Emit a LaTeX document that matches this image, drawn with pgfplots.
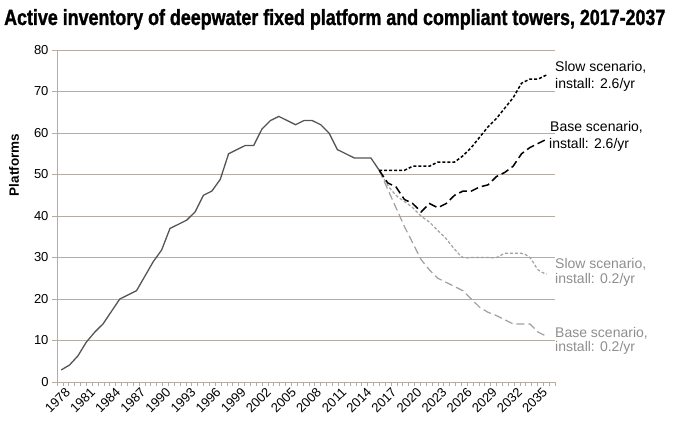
\documentclass[border=0pt]{standalone}
\usepackage{fontspec}
\setmainfont{Liberation Sans}
\newfontfamily\titlefont{Liberation Sans}[FakeStretch=0.812, FakeBold=1.2]
\usepackage{pgfplots}
\pgfplotsset{compat=1.18}

\definecolor{gridgray}{HTML}{B3ADA6}
\definecolor{histgray}{HTML}{555555}
\definecolor{lowgray}{HTML}{A0A0A0}
\definecolor{labgray}{HTML}{8E8E8E}

\begin{document}
\begin{tikzpicture}
\useasboundingbox (-57bp,-52bp) rectangle (618bp,382bp);
\begin{axis}[
    scale only axis,
    width=498bp, height=332bp,
    xmin=1976.5, xmax=2036,
    ymin=0, ymax=80,
    axis x line=bottom, axis y line=left,
    axis line style={gridgray, -, line width=0.8bp},
    ytick={0,10,...,80},
    xtick={1978,1981,...,2035},
    minor xtick={1976.5,1977.2,...,2036},
    major x tick style={draw=none},
    minor x tick style={gridgray, line width=0.6bp},
    minor tick length=4bp,
    ytick style={gridgray, line width=0.8bp},
    major tick length=5bp,
    tick align=outside,
    ymajorgrids,
    grid style={gridgray, line width=0.8bp},
    /pgf/number format/assume math mode=true,
    xticklabel={\pgfmathprintnumber[1000 sep={}]{\tick}},
    yticklabel style={font=\fontsize{13bp}{15bp}\selectfont},
    xticklabel style={font=\fontsize{13bp}{15bp}\selectfont, rotate=45, anchor=east, yshift=-1bp},
    clip=false,
]
% historical inventory
\addplot[histgray, line width=1.3bp] coordinates {
(1977,2.9) (1978,4.1) (1979,6.3) (1980,9.6) (1981,12) (1982,14) (1983,17)
(1984,20) (1985,21) (1986,22) (1987,25.5) (1988,29) (1989,31.8) (1990,37)
(1991,38) (1992,39) (1993,41) (1994,45) (1995,46) (1996,48.8) (1997,55)
(1998,56) (1999,57) (2000,57) (2001,61) (2002,63) (2003,64) (2004,63)
(2005,62) (2006,63) (2007,63) (2008,62) (2009,60) (2010,56) (2011,55)
(2012,54) (2013,54) (2014,54) (2015,51)
};
% slow scenario, install 0.2/yr
\addplot[lowgray, line width=1.2bp, dash pattern=on 3bp off 2bp, smooth] coordinates {
(2015,51) (2016,47.5) (2017,45) (2018,43.5) (2019,42) (2020,40) (2021,38.5)
(2022,36.5) (2023,34.5) (2024,32) (2025,30) (2026,30) (2027,30) (2028,30)
(2029,30) (2030,31) (2031,31) (2032,31) (2033,30) (2034,27) (2035,26)
};
% base scenario, install 0.2/yr
\addplot[lowgray, line width=1.2bp, dash pattern=on 8bp off 4bp] coordinates {
(2015,51) (2016,46.5) (2017,42) (2018,37.5) (2019,33.5) (2020,29.5) (2021,27)
(2022,25) (2023,24) (2024,23) (2025,22) (2026,20) (2027,18) (2028,16.8)
(2029,16) (2030,15) (2031,14) (2032,14) (2033,14) (2034,12) (2035,11)
};
% slow scenario, install 2.6/yr
\addplot[black, line width=1.5bp, dash pattern=on 3bp off 2bp] coordinates {
(2015,51) (2016,51) (2017,51) (2018,51) (2019,52) (2020,52) (2021,52)
(2022,53) (2023,53) (2024,53) (2025,54.5) (2026,56.5) (2027,59) (2028,61.5)
(2029,63.5) (2030,66) (2031,68.5) (2032,72) (2033,73) (2034,73) (2035,74)
};
% base scenario, install 2.6/yr
\addplot[black, line width=1.5bp, dash pattern=on 8bp off 4bp] coordinates {
(2015,51) (2016,48) (2017,47) (2018,44) (2019,43) (2020,41) (2021,43)
(2022,42) (2023,43) (2024,45) (2025,46) (2026,46) (2027,47) (2028,47.5)
(2029,49.5) (2030,50.5) (2031,52) (2032,55) (2033,56.5) (2034,57.5) (2035,58.5)
};
\end{axis}
\node[anchor=base west, inner sep=0pt] at (-53bp,357bp)
  {\titlefont\bfseries\fontsize{22bp}{24bp}\selectfont Active inventory of deepwater fixed platform and compliant towers, 2017-2037};
\node[rotate=90, inner sep=0pt] at (-43bp,217bp)
  {\bfseries\fontsize{13.5bp}{15bp}\selectfont Platforms};
\begin{scope}[every node/.style={anchor=base west, inner sep=0pt, font=\fontsize{14bp}{16bp}\selectfont}]
\node at (498bp,310.3bp) {Slow scenario,};
\node at (498bp,293.7bp) {install: 2.6/yr};
\node at (493bp,250.3bp) {Base scenario,};
\node at (492bp,233.7bp) {install: 2.6/yr};
\node[text=labgray] at (498bp,113.7bp) {Slow scenario,};
\node[text=labgray] at (498bp,98.7bp) {install: 0.2/yr};
\node[text=labgray] at (498bp,44.7bp) {Base scenario,};
\node[text=labgray] at (498bp,30.3bp) {install: 0.2/yr};
\end{scope}
\end{tikzpicture}
\end{document}
